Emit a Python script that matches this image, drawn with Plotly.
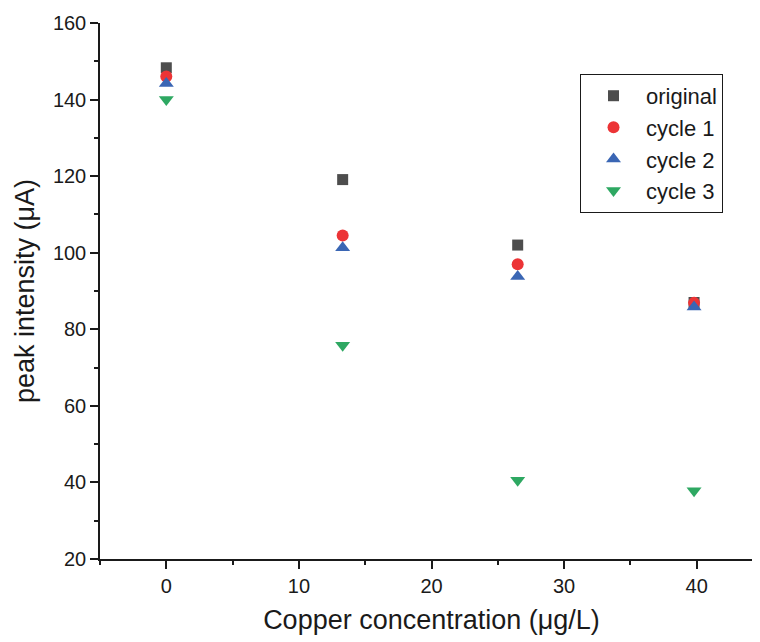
import plotly.graph_objects as go

conc = [0, 13.3, 26.5, 39.8]
original = [148.3, 119.1, 102.0, 87.0]
cycle1 = [146.0, 104.5, 97.0, 86.9]
cycle2 = [144.2, 101.3, 93.8, 85.8]
cycle3 = [140.0, 75.8, 40.6, 37.8]

series = [
    ("original", original, "square", "#4d4d4d", 11),
    ("cycle 1", cycle1, "circle", "#ec3436", 12),
    ("cycle 2", cycle2, "triangle-up", "#3a66b4", 13),
    ("cycle 3", cycle3, "triangle-down", "#2ea862", 13),
]

FONT = "Liberation Sans, Arial"
INK = "#1a1a1a"

fig = go.Figure()
for name, ys, sym, col, sz in series:
    fig.add_trace(go.Scatter(x=conc, y=ys, mode="markers", name=name,
                             marker=dict(symbol=sym, color=col, size=sz, line=dict(width=0))))

axis_common = dict(showgrid=False, zeroline=False, showline=True, linecolor=INK, linewidth=1.5,
                   ticks="outside", ticklen=8, tickwidth=1.5, tickcolor=INK,
                   tickfont=dict(family=FONT, size=20, color=INK))

fig.update_layout(
    width=760, height=642,
    margin=dict(l=92, r=5, t=15, b=91),
    plot_bgcolor="white", paper_bgcolor="white",
    showlegend=True,
    legend=dict(x=0.724, y=0.905, xanchor="left", yanchor="top",
                bordercolor=INK, borderwidth=1, bgcolor="white",
                font=dict(family=FONT, size=22, color=INK),
                itemwidth=55, tracegroupgap=0),
    xaxis=dict(range=[-5, 45], dtick=10, tick0=0,
               minor=dict(dtick=5, ticks="outside", ticklen=4, tickwidth=1.5, tickcolor=INK),
               title=dict(text="Copper concentration (μg/L)", standoff=14,
                          font=dict(family=FONT, size=27, color=INK)),
               **axis_common),
    yaxis=dict(range=[20, 160], dtick=20,
               minor=dict(dtick=10, ticks="outside", ticklen=4, tickwidth=1.5, tickcolor=INK),
               title=dict(text="peak intensity (μA)", standoff=10,
                          font=dict(family=FONT, size=27, color=INK)),
               **axis_common),
)

fig.write_html("out.html")
